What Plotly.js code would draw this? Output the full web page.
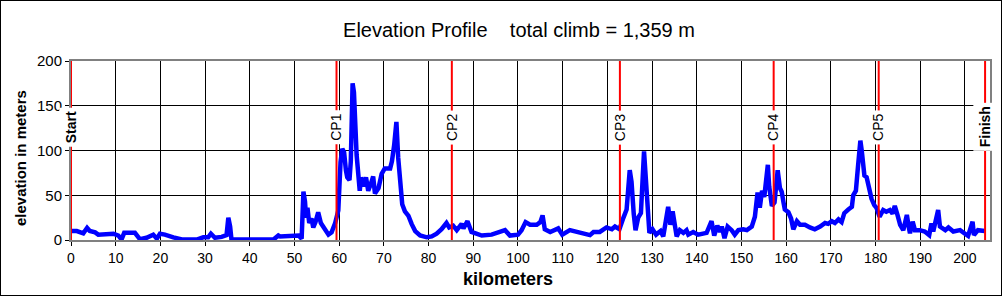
<!DOCTYPE html>
<html>
<head>
<meta charset="utf-8">
<script src="https://cdn.plot.ly/plotly-3.0.1.min.js"></script>
<style>
  html, body { margin: 0; padding: 0; background: #fff; }
  #frame { width: 1000px; height: 294px; border: 1px solid #000; }
</style>
</head>
<body>
<div id="frame"></div>
<script>
// Route profile: distance along the course (km) and elevation (m)
const distanceKm = [
  0, 1.3, 2.75, 3.6, 4.2, 5.4, 6.1, 9.5, 10.6, 11.3, 11.9, 14.3, 15.4, 16.9, 18.4, 19.2, 19.9, 21, 22.9, 24.8,
  28.1, 29.6, 30.7, 31.3, 32.2, 33.7, 34.8, 35.2, 35.6, 35.9, 45.3, 46.4, 46.8, 50.9, 51.6, 52.0, 52.35, 52.6, 52.9, 53.3,
  53.8, 54.2, 54.7, 55.3, 55.9, 56.8, 57.6, 58.3, 59.1, 59.8, 60.3, 60.7, 61.1, 61.5, 61.8, 62.3, 62.6, 63.0, 63.3, 63.9,
  64.3, 64.6, 64.9, 65.4, 66.0, 66.5, 67.1, 67.6, 68.0, 68.8, 69.5, 70.2, 71.4, 71.8, 72.3, 72.8, 73.2, 73.6, 74.1, 74.7,
  75.5, 76.2, 77.0, 78.1, 79.6, 80.7, 81.8, 82.9, 84.0, 84.6, 85.5, 86.3, 87.4, 87.8, 88.7, 89.6, 91.1, 91.9, 94.1, 96.0,
  97.1, 98.2, 100.0, 100.8, 101.7, 102.7, 104.2, 105.0, 105.5, 106.0, 107.2, 109.0, 109.9, 111.6, 113.9, 116.1, 116.9, 118.3, 119.8, 121.0,
  121.7, 122.7, 123.6, 124.3, 125.0, 125.4, 125.9, 126.3, 126.9, 127.5, 128.2, 128.8, 129.4, 130.1, 130.9, 131.9, 132.5, 133.6, 134.1, 134.6,
  135.1, 135.5, 136.2, 137.0, 137.7, 138.1, 139.2, 140.3, 142.2, 143.3, 143.9, 144.6, 145.2, 145.6, 146.2, 146.9, 147.8, 148.5, 149.3, 150.4,
  151.2, 152.3, 153.0, 153.6, 154.1, 154.6, 155.1, 155.5, 155.9, 156.2, 156.8, 157.4, 158.1, 158.6, 159.0, 159.4, 159.7, 160.5, 161.1, 161.6,
  162.4, 163.1, 164.2, 165.3, 166.4, 167.6, 168.7, 169.4, 170.2, 170.9, 171.7, 172.4, 173.0, 173.9, 174.7, 175.0, 175.6, 176.1, 176.6, 176.9,
  177.1, 177.5, 178.0, 178.6, 179.1, 179.7, 180.2, 180.9, 181.7, 182.4, 183.2, 183.8, 184.3, 184.9, 185.5, 186.2, 187.0, 187.4, 187.7, 188.3,
  188.8, 189.9, 191.0, 192.0, 192.5, 192.9, 194.0, 194.4, 195.6, 196.3, 197.4, 198.9, 200.0, 200.7, 201.7, 202.0, 202.9, 204.4
];
const elevationM = [
  10, 10, 7.5, 13.5, 10, 8.5, 6, 7, 5, 0.5, 8, 8, 1, 2.5, 6, 1.5, 7, 6, 3, 0.5,
  0.5, 3, 3, 7, 2.5, 3.5, 5.5, 25, 15, 0.5, 0.5, 5, 4, 5, 1.5, 54, 43, 25, 36, 19,
  24, 14, 20, 31, 19, 11, 6, 8.5, 19, 33, 87, 102, 98, 78, 70, 67, 88, 175, 165, 95,
  70, 55, 70, 60, 70, 55, 63, 71, 52, 58, 74, 80, 80, 88, 106, 132, 92, 64, 40, 32,
  27, 18, 10, 5, 3, 4, 7, 12, 19, 14, 16, 11, 18, 13, 21, 9, 7, 5, 6, 9,
  11, 5, 6, 11, 20, 17, 17, 20, 27.5, 12, 9, 13, 6, 11, 8, 5.5, 9, 9, 14, 12,
  15, 12, 25, 34, 78, 65, 29, 11, 25, 30, 99, 50, 8, 12, 6, 10, 4, 37, 17, 32,
  12, 4, 11, 8, 11, 6, 9, 6, 8, 21, 5, 16, 9, 15, 2, 15, 11, 6, 11, 12,
  11, 15, 26, 53, 36, 55, 48, 72, 84, 60, 38, 42, 78, 58, 54, 42, 34, 31, 24, 12,
  21, 17, 17, 14, 12, 15, 19, 18, 21, 19, 23, 20, 30, 34, 37, 50, 55, 84, 111, 100,
  88, 72, 70, 56, 46, 39, 36, 26, 33.5, 31.5, 33.5, 29.5, 38, 28, 17, 11, 28, 15, 7.5, 20.5,
  11, 11, 9.5, 5.5, 18.5, 9.5, 33.5, 15, 11, 14, 9.5, 11, 7.5, 4.5, 20.5, 5.5, 11, 10
];

// Checkpoints along the route
const checkpointNames = ["Start", "CP1", "CP2", "CP3", "CP4", "CP5", "Finish"];
const checkpointKm = [0, 59.4, 85.2, 122.8, 157.2, 180.7, 204.5];
const checkpointBold = [true, false, false, false, false, false, true];

// Axis ticks
const xTicks = [0, 10, 20, 30, 40, 50, 60, 70, 80, 90, 100, 110, 120, 130, 140, 150, 160, 170, 180, 190, 200];
const yTicks = [0, 50, 100, 150, 200];

const titleText = "Elevation Profile&nbsp;&nbsp;&nbsp;&nbsp;total climb = 1,359 m";
const labelHeight = 126;   // elevation at which checkpoint names sit

const FONT = "Liberation Sans, Arial, sans-serif";

const profile = {
  x: distanceKm,
  y: elevationM,
  type: "scatter",
  mode: "lines",
  line: { color: "#0000FF", width: 4.5 },
  hoverinfo: "x+y",
  showlegend: false
};

const shapes = checkpointKm.map(km => ({
  type: "line", xref: "x", yref: "y",
  x0: km, x1: km, y0: 0, y1: 200,
  line: { color: "#FF0000", width: 2 },
  layer: "above"
}));

const annotations = checkpointNames.map((name, i) => ({
  x: checkpointKm[i], y: labelHeight, xref: "x", yref: "y",
  text: checkpointBold[i] ? "<b>" + name + "</b>" : name,
  textangle: -90,
  showarrow: false,
  bgcolor: "#FFFFFF",
  borderpad: 3,
  font: { family: FONT, size: 14, color: "#000" },
  xanchor: "center", yanchor: "middle"
}));

annotations.push({
  text: "<b>kilometers</b>",
  xref: "paper", yref: "paper",
  x: (508 - 71) / 919, y: (240 - 279) / 179,
  xanchor: "center", yanchor: "middle",
  showarrow: false,
  font: { family: FONT, size: 18, color: "#000" }
});
annotations.push({
  text: "<b>elevation in meters</b>",
  xref: "paper", yref: "paper",
  x: (20 - 71) / 919, y: (240 - 158) / 179,
  xanchor: "center", yanchor: "middle",
  textangle: -90,
  showarrow: false,
  font: { family: FONT, size: 15, color: "#000" }
});

const layout = {
  width: 1000,
  height: 294,
  margin: { l: 70, r: 11, t: 60, b: 55, pad: 0 },
  paper_bgcolor: "#FFFFFF",
  plot_bgcolor: "#FFFFFF",
  font: { family: FONT, size: 14, color: "#000" },
  title: {
    text: titleText,
    font: { family: FONT, size: 20, color: "#000" },
    xref: "container", yref: "container",
    x: 518 / 1000, y: 1 - 29 / 294,
    xanchor: "center", yanchor: "middle"
  },
  xaxis: {
    range: [0, 205.6],
    tickmode: "array",
    tickvals: xTicks,
    ticktext: xTicks.map(String),
    ticks: "outside", ticklen: 4, tickwidth: 1, tickcolor: "#000",
    showgrid: true, gridcolor: "#000", gridwidth: 1,
    zeroline: false,
    showline: true, mirror: true, linecolor: "#808080", linewidth: 2,
    tickfont: { family: FONT, size: 14, color: "#000" },
    automargin: false,
    fixedrange: true
  },
  yaxis: {
    range: [0, 200],
    tickmode: "array",
    tickvals: yTicks,
    ticktext: yTicks.map(String),
    ticks: "outside", ticklen: 4, tickwidth: 1, tickcolor: "#000",
    showgrid: true, gridcolor: "#000", gridwidth: 1,
    zeroline: false,
    showline: true, mirror: true, linecolor: "#808080", linewidth: 2,
    tickfont: { family: FONT, size: 15, color: "#000" },
    automargin: false,
    fixedrange: true
  },
  shapes: shapes,
  annotations: annotations,
  showlegend: false
};

Plotly.newPlot("frame", [profile], layout, { displayModeBar: false, staticPlot: true });
</script>
</body>
</html>
